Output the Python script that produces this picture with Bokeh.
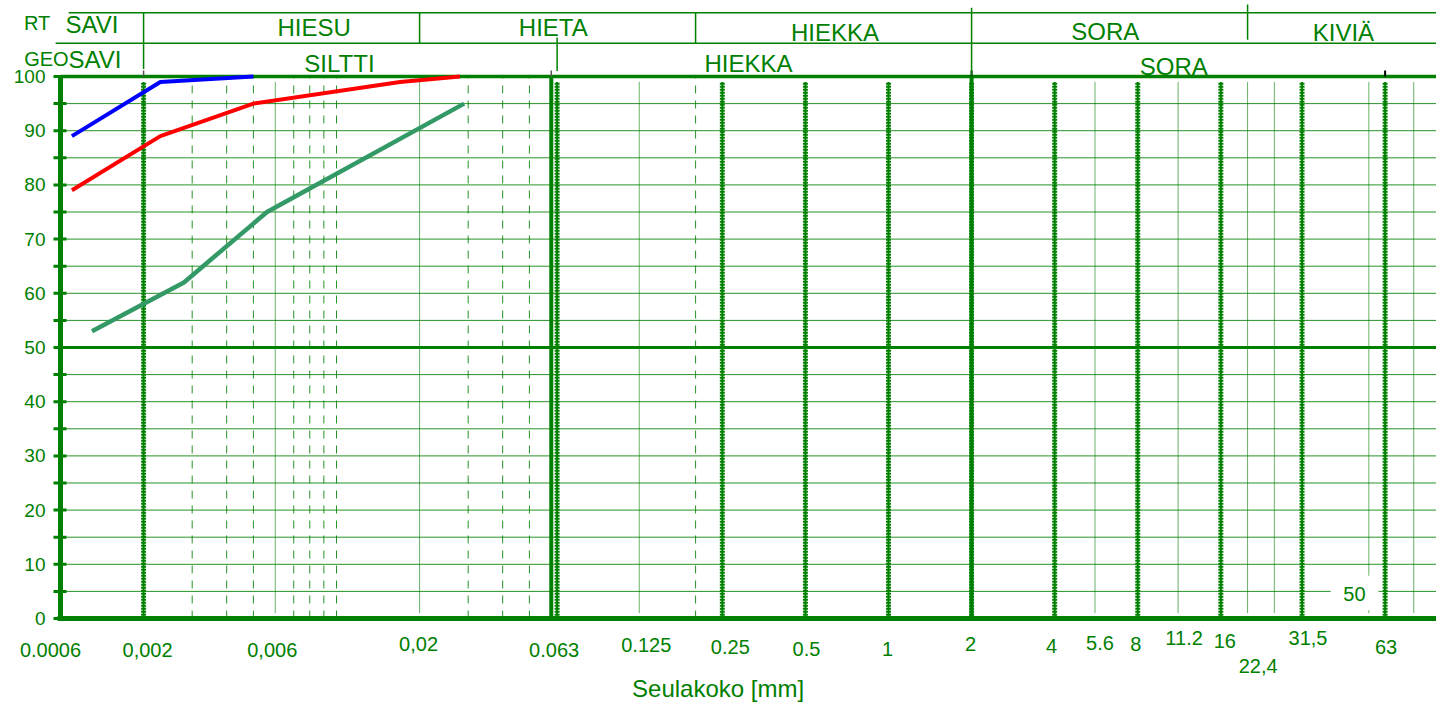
from bokeh.plotting import figure
from bokeh.models import Range1d
from bokeh.core.properties import value
from bokeh.embed import file_html
from bokeh.resources import INLINE

GREEN = "#008000"
FONT = "Liberation Sans"

# ---- passing percentage vs. grain size (mm) for three samples ----
blue_size = [0.0011, 0.0023, 0.0050]
blue_pass = [89, 99, 100]
red_size = [0.0011, 0.0023, 0.0050, 0.017, 0.028]
red_pass = [79, 89, 95, 99, 100]
green_size = [0.0013, 0.0028, 0.0056, 0.029]
green_pass = [53, 62, 75, 95]

# ---- y ticks (passing %) ----
y_ticks = list(range(0, 101, 10))
y_tick_marks = list(range(0, 101, 5))

# ---- x ticks (sieve sizes) ----
tick_sizes = [0.001, 0.002, 0.006, 0.02, 0.063, 0.125, 0.25, 0.5, 1, 2,
              4, 5.6, 8, 11.2, 16, 22.4, 31.5, 63]
tick_labels = ["0.0006", "0,002", "0,006", "0,02", "0.063", "0.125", "0.25",
               "0.5", "1", "2", "4", "5.6", "8", "11.2", "16", "22,4", "31,5",
               "63"]

# ---- vertical grid lines ----
grid_dotted = [0.002, 0.063, 0.25, 0.5, 1, 2, 4, 8, 16, 31.5, 63]
grid_thick = [0.06, 2]
grid_thin = [0.006, 0.02, 0.125, 5.6, 11.2, 20, 25, 55, 80]
grid_dashed = [0.003, 0.004, 0.005, 0.007, 0.008, 0.009, 0.01, 0.03, 0.04,
               0.05, 0.2]
top_marks_grey = [0.002, 0.06]
top_marks_black = [2, 63]

# ---- soil classification bands ----
rt_limits = [0.002, 0.02, 0.2, 2, 20]
rt_names = ["SAVI", "HIESU", "HIETA", "HIEKKA", "SORA", "KIVIÄ"]
geo_limits = [0.002, 0.063, 2]
geo_names = ["SAVI", "SILTTI", "HIEKKA", "SORA"]

# ---- canvas geometry: log x at 276 px per decade, 5.42 px per % ----
X_MIN = 10 ** (-3 - 60 / 276)
X_MAX = 10 ** (-3 + 1376 / 276)
Y_MIN = -84 / 5.42
Y_MAX = 618 / 5.42

p = figure(width=1436, height=702, x_axis_type="log", title=None,
           x_axis_location=None, y_axis_location=None,
           x_range=Range1d(X_MIN, X_MAX), y_range=Range1d(Y_MIN, Y_MAX),
           output_backend="svg", toolbar_location=None,
           min_border_left=0, min_border_right=0, min_border_top=0,
           min_border_bottom=0)
p.outline_line_color = None
p.background_fill_color = "white"
p.border_fill_color = "white"
p.grid.visible = False


def vlines(xs, y0, y1, **kw):
    n = len(xs)
    p.segment(x0=xs, y0=[y0] * n, x1=xs, y1=[y1] * n, **kw)


def hlines(ys, x0, x1, **kw):
    n = len(ys)
    p.segment(x0=[x0] * n, y0=ys, x1=[x1] * n, y1=ys, **kw)


def label(xs, ys, texts, size, align="center", **kw):
    p.text(x=xs, y=ys, text=texts, text_font=value(FONT),
           text_font_size=size, text_color=GREEN, text_align=align,
           text_baseline="middle", **kw)


# horizontal grid every 5 %
minor_levels = [v for v in range(5, 100, 5) if v != 50]
hlines(minor_levels, 0.001, X_MAX, line_color=GREEN, line_width=1,
       line_alpha=0.85)
hlines([50], 0.001, X_MAX, line_color=GREEN, line_width=3)
hlines([100], 0.001, X_MAX, line_color=GREEN, line_width=3.5)

# vertical grid
vlines(grid_dashed, 0, 100, line_color=GREEN, line_width=1, line_dash="8 7",
       line_alpha=0.85)
vlines(grid_thin, 1, 99, line_color=GREEN, line_width=1, line_alpha=0.6)
vlines(grid_thick, 0, 100, line_color=GREEN, line_width=4)
vlines(grid_dotted, 0.5, 99, line_color=GREEN, line_width=2)
vlines(grid_dotted, 0.5, 99, line_color=GREEN, line_width=5, line_dash="2 1")
vlines(top_marks_grey, 100, 101.1, line_color="#555555", line_width=1.5)
vlines(top_marks_black, 100, 101.1, line_color="black", line_width=2)

# y axis: spine, tick marks and labels
vlines([0.001], 0, 100, line_color=GREEN, line_width=5)
hlines(y_tick_marks, 10 ** (-3 - 7 / 276), 10 ** (-3 + 6 / 276),
       line_color=GREEN, line_width=3)
label([10 ** (-3 - 15 / 276)] * len(y_ticks), y_ticks,
      [str(t) for t in y_ticks], "19px", align="right")

# x axis: spine and sieve-size labels
hlines([0], 10 ** (-3 - 3 / 276), X_MAX, line_color=GREEN, line_width=5)
tick_label_y = [-5.72, -5.72, -5.72, -4.70, -5.90, -4.98, -5.35, -5.54,
                -5.54, -4.70, -5.11, -4.61, -4.70, -3.69, -4.11, -8.76,
                -3.69, -5.35]
tick_label_dx = [-10, 4, -3, -1, -3, 7, 8, 1, -1, -1, -3, 5, -2, 6, 4, -3,
                 6, 1]
label(tick_sizes, tick_label_y, tick_labels, "20px", x_offset=tick_label_dx)
label([0.2413], [-12.97], ["Seulakoko [mm]"], "24px")

# "50" tag on the stone-size line
p.quad(left=[40.0], right=[59.6], bottom=[1.5], top=[7.9],
       fill_color="white", line_color=None)
label([50], [4.61], ["50"], "20px", x_offset=[-3])

# sample curves
p.line(green_size, green_pass, line_color="#339966", line_width=4.5)
p.line(red_size, red_pass, line_color="#FF0000", line_width=4)
p.line(blue_size, blue_pass, line_color="#0000FF", line_width=4)

# classification header: frame lines
hlines([111.75], 0.00107, X_MAX, line_color=GREEN, line_width=1.5)
hlines([106.15], 0.00096, X_MAX, line_color=GREEN, line_width=1.5)
vlines([rt_limits[0]], 101.4, 111.75, line_color=GREEN, line_width=1.5)
vlines(rt_limits[1:3], 106.15, 111.75, line_color=GREEN, line_width=1.5)
vlines([rt_limits[3]], 100, 112.7, line_color=GREEN, line_width=1.5)
vlines([rt_limits[4]], 106.8, 113.3, line_color=GREEN, line_width=1.5)
vlines([geo_limits[1]], 101.0, 107.2, line_color=GREEN, line_width=1.5)

# classification header: names
label([0.000823], [109.87], ["RT"], "20px")
rt_x = [0.0013, 0.0083, 0.061, 0.64, 6.1, 44.5]
rt_y = [109.56, 108.95, 108.95, 108.17, 108.24, 108.17]
label(rt_x, rt_y, rt_names, "24px")
label([0.00107], [103.27], ["GEO"], "20px", align="right")
label([0.00107], [103.11], [geo_names[0]], "24px", align="left")
geo_x = [0.01025, 0.311, 10.8]
geo_y = [102.34, 102.34, 101.8]
label(geo_x, geo_y, geo_names[1:], "24px")

open("out.html", "w").write(file_html(p, INLINE))
